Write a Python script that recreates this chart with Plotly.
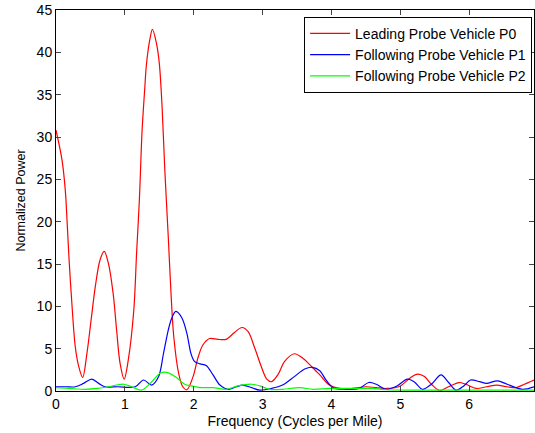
import plotly.graph_objects as go

# Red: Leading Probe Vehicle P0
p0_x = [0, 0.087, 0.135, 0.16, 0.19, 0.23, 0.28, 0.33, 0.387, 0.45, 0.51, 0.57, 0.64, 0.70, 0.76, 0.83, 0.88, 0.93,
        0.99, 1.05, 1.13, 1.17, 1.21, 1.25, 1.29, 1.31, 1.36, 1.40, 1.46, 1.50, 1.54, 1.58, 1.63, 1.67, 1.71, 1.78,
        1.84, 1.90, 1.99, 2.06, 2.13, 2.23, 2.35, 2.47, 2.59, 2.70, 2.79, 2.88, 2.98, 3.06, 3.13, 3.22, 3.32, 3.46,
        3.58, 3.71, 3.83, 3.97, 4.12, 4.30, 4.50, 4.65, 4.80, 5.00, 5.15, 5.25, 5.35, 5.45, 5.57, 5.70, 5.85, 5.95,
        6.10, 6.25, 6.40, 6.55, 6.68, 6.80, 6.94]
p0_y = [30.8, 27.3, 23.7, 20.2, 15.5, 10.4, 5.2, 2.9, 1.6, 4.5, 8.4, 12.3, 15.5, 16.5, 15.1, 11.5, 7.2, 3.3,
        1.4, 3.7, 9.6, 16.3, 22.5, 30.8, 35.9, 38.3, 41.4, 42.7, 41.0, 38.7, 33.6, 26.1, 18.2, 11.5, 6.4, 2.1,
        0.5, 0.15, 1.7, 3.9, 5.4, 6.2, 6.1, 6.1, 6.9, 7.5, 7.0, 5.2, 2.9, 1.4, 1.1, 1.9, 3.5, 4.4,
        3.9, 2.9, 1.9, 0.7, 0.3, 0.3, 0.5, 0.4, 0.3, 0.6, 1.6, 2.0, 1.7, 0.8, 0.05, 0.5, 1.0, 0.8,
        0.3, 0.5, 0.7, 0.5, 0.4, 0.8, 1.3]

# Blue: Following Probe Vehicle P1
p1_x = [0, 0.15, 0.28, 0.40, 0.52, 0.62, 0.71, 0.90, 1.15, 1.27, 1.39, 1.49, 1.56, 1.63, 1.68, 1.74, 1.83, 1.90,
        1.96, 2.01, 2.09, 2.18, 2.28, 2.38, 2.50, 2.62, 2.71, 2.84, 2.96, 3.13, 3.29, 3.46, 3.61, 3.72, 3.83, 3.92,
        4.02, 4.20, 4.40, 4.54, 4.65, 4.79, 4.95, 5.10, 5.20, 5.32, 5.45, 5.59, 5.70, 5.81, 5.92, 6.02, 6.15, 6.25,
        6.41, 6.55, 6.77, 6.94]
p1_y = [0.5, 0.5, 0.5, 0.9, 1.4, 0.9, 0.5, 0.5, 0.5, 1.3, 0.7, 1.7, 4.4, 7.2, 8.6, 9.4, 8.6, 6.8,
        4.4, 3.5, 3.2, 3.0, 1.9, 0.7, 0.2, 0.5, 0.7, 0.4, 0.1, 0.3, 0.7, 1.7, 2.6, 2.8, 2.4, 1.3,
        0.4, 0.2, 0.3, 1.0, 0.8, 0.2, 0.6, 1.4, 1.1, 0.2, 0.8, 1.9, 1.0, 0.1, 0.6, 1.3, 1.1, 0.9,
        1.2, 0.8, 0.2, 0.5]

# Green: Following Probe Vehicle P2
p2_x = [0, 0.20, 0.42, 0.60, 0.76, 0.98, 1.10, 1.24, 1.39, 1.51, 1.61, 1.73, 1.87, 1.97, 2.09, 2.28, 2.47, 2.64,
        2.84, 2.96, 3.10, 3.29, 3.54, 3.73, 3.97, 4.30, 4.60, 4.80, 5.20, 5.60, 6.00, 6.50, 6.94]
p2_y = [0.4, 0.3, 0.2, 0.3, 0.5, 0.8, 0.5, 0.1, 1.1, 2.1, 2.2, 1.7, 0.8, 0.6, 0.4, 0.4, 0.2, 0.6,
        0.8, 0.6, 0.2, 0.2, 0.4, 0.2, 0.3, 0.3, 0.3, 0.15, 0.1, 0.1, 0.1, 0.1, 0.1]

series = [
    ("Leading Probe Vehicle P0", p0_x, p0_y, "#ff0000"),
    ("Following Probe Vehicle P1", p1_x, p1_y, "#0000ff"),
    ("Following Probe Vehicle P2", p2_x, p2_y, "#00ff00"),
]

x_ticks = [0, 1, 2, 3, 4, 5, 6]
y_ticks = [0, 5, 10, 15, 20, 25, 30, 35, 40, 45]

fig = go.Figure()
for name, xs, ys, col in series:
    fig.add_trace(go.Scatter(x=xs, y=ys, mode="lines", name=name,
                             line=dict(color=col, width=1.2, shape="spline", smoothing=0.9)))

font = "Liberation Sans, Arial, Helvetica, sans-serif"
fig.update_layout(
    width=535, height=433,
    margin=dict(l=56, r=1, t=10, b=42),
    paper_bgcolor="white", plot_bgcolor="white",
    font=dict(family=font, size=14, color="black"),
    showlegend=True,
    legend=dict(x=0.996, y=0.982, xanchor="right", yanchor="top",
                bordercolor="black", borderwidth=1, bgcolor="white",
                font=dict(family=font, size=14, color="black"),
                tracegroupgap=0, itemwidth=40),
    xaxis=dict(range=[0, 6.94], tickvals=x_ticks, ticks="inside", ticklen=5,
               showline=True, linecolor="black", linewidth=1, mirror="allticks",
               showgrid=False, zeroline=False, tickfont=dict(size=14),
               title=dict(text="Frequency (Cycles per Mile)", font=dict(size=14), standoff=5)),
    yaxis=dict(range=[0, 45], tickvals=y_ticks, ticks="inside", ticklen=5,
               showline=True, linecolor="black", linewidth=1, mirror="allticks",
               showgrid=False, zeroline=False, tickfont=dict(size=14),
               title=dict(text="Normalized Power", font=dict(size=12.5), standoff=8)),
)

fig.write_html("out.html")
